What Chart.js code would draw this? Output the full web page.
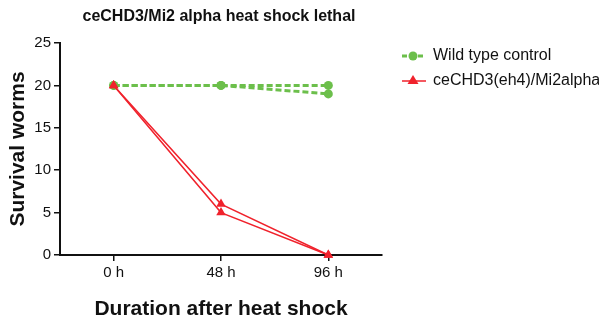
<!DOCTYPE html>
<html>
<head>
<meta charset="utf-8">
<script src="https://cdn.jsdelivr.net/npm/chart.js@4/dist/chart.umd.min.js"></script>
<style>
html,body{margin:0;padding:0;background:#fff;}
#wrap{width:599px;height:319px;position:relative;}
</style>
</head>
<body>
<div id="wrap"><canvas id="c" width="599" height="319"></canvas></div>
<script>
const chartTitle = 'ceCHD3/Mi2 alpha heat shock lethal';
const categories = ['0 h', '48 h', '96 h'];
const wildTypeRep1 = [20, 20, 20];
const wildTypeRep2 = [20, 20, 19];
const mutantRep1 = [20, 6, 0];
const mutantRep2 = [20, 5, 0];
const seriesNames = ['Wild type control', 'ceCHD3(eh4)/Mi2alpha'];
const yTicks = [0, 5, 10, 15, 20, 25];

const GREEN = '#6cbf4b';
const RED = '#f0222c';
const FONT = '"Liberation Sans", Arial, sans-serif';

function greenDs(data, label) {
  return {label, data, borderColor: GREEN, backgroundColor: GREEN, borderWidth: 3,
    borderDash: [6, 3], pointStyle: 'circle', pointRadius: 4.5, pointBorderWidth: 0,
    pointBackgroundColor: GREEN, tension: 0, clip: false, order: 2};
}
function redDs(data, label) {
  return {label, data, borderColor: RED, backgroundColor: RED, borderWidth: 1.5,
    pointStyle: 'triangle', pointRadius: 5.5, pointBorderWidth: 0,
    pointBackgroundColor: RED, tension: 0, clip: false, order: 1};
}

const legendPlugin = {
  id: 'customLegend',
  afterDraw(chart) {
    const ctx = chart.ctx;
    ctx.save();
    const rows = [
      {name: seriesNames[0], color: GREEN, dash: [5, 3], width: 3, marker: 'circle', y: 56},
      {name: seriesNames[1], color: RED, dash: [], width: 1.5, marker: 'triangle', y: 81}
    ];
    rows.forEach(r => {
      ctx.strokeStyle = r.color; ctx.fillStyle = r.color;
      ctx.lineWidth = r.width; ctx.setLineDash(r.dash);
      ctx.beginPath(); ctx.moveTo(402, r.y); ctx.lineTo(426, r.y); ctx.stroke();
      ctx.setLineDash([]);
      if (r.marker === 'circle') {
        ctx.beginPath(); ctx.arc(413, r.y, 4.5, 0, Math.PI * 2); ctx.fill();
      } else {
        ctx.beginPath(); ctx.moveTo(413, r.y - 6); ctx.lineTo(418.5, r.y + 3); ctx.lineTo(407.5, r.y + 3); ctx.closePath(); ctx.fill();
      }
      ctx.fillStyle = '#111';
      ctx.font = '16px ' + FONT;
      ctx.textBaseline = 'middle';
      ctx.textAlign = 'left';
      ctx.fillText(r.name, 433, r.y);
    });
    ctx.fillStyle = '#111';
    ctx.font = 'bold 16px ' + FONT;
    ctx.textAlign = 'center';
    ctx.textBaseline = 'middle';
    ctx.fillText(chartTitle, 219, 17);
    ctx.restore();
  }
};

new Chart(document.getElementById('c'), {
  type: 'line',
  data: {
    labels: categories,
    datasets: [
      greenDs(wildTypeRep1, seriesNames[0]),
      greenDs(wildTypeRep2, seriesNames[0]),
      redDs(mutantRep1, seriesNames[1]),
      redDs(mutantRep2, seriesNames[1])
    ]
  },
  options: {
    responsive: false,
    animation: false,
    layout: {padding: {left: 0, right: 217, top: 43, bottom: 0}},
    plugins: {legend: {display: false}, tooltip: {enabled: false}, title: {display: false}},
    scales: {
      x: {
        offset: true,
        afterFit(s) { s.height = 64; },
        grid: {display: true, drawOnChartArea: false, drawTicks: true, tickLength: 6, color: '#111', lineWidth: 1.5},
        border: {display: true, color: '#111', width: 2},
        ticks: {color: '#111', font: {size: 15, family: FONT}, padding: 3, maxRotation: 0},
        title: {display: true, text: 'Duration after heat shock', color: '#111',
          font: {size: 21, weight: 'bold', family: FONT}, padding: {top: 0, bottom: -3}}
      },
      y: {
        min: 0, max: 25,
        afterFit(s) { s.width = 60; },
        afterBuildTicks(s) { s.ticks = yTicks.map(v => ({value: v})); },
        grid: {display: true, drawOnChartArea: false, drawTicks: true, tickLength: 6, color: '#111', lineWidth: 1.5},
        border: {display: true, color: '#111', width: 2},
        ticks: {color: '#111', font: {size: 15, family: FONT}, padding: 3},
        title: {display: true, text: 'Survival worms', color: '#111',
          font: {size: 21, weight: 'bold', family: FONT}, padding: {top: 6, bottom: 0}}
      }
    }
  },
  plugins: [legendPlugin]
});
</script>
</body>
</html>
